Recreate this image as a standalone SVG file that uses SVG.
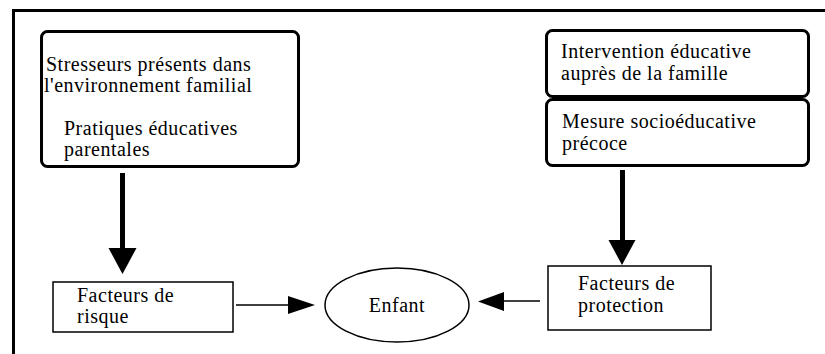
<svg xmlns="http://www.w3.org/2000/svg" width="825" height="354" viewBox="0 0 825 354">
<rect width="825" height="354" fill="#fff"/>
<path d="M13.5 354 V10.5 H825" fill="none" stroke="#000" stroke-width="3"/>
<g id="stresseurs">
<rect x="41.5" y="31.5" width="257" height="135" rx="6" fill="#fff" stroke="#000" stroke-width="3"/>
<text x="46" y="71" font-family="Liberation Serif" font-size="20" letter-spacing="0.5">Stresseurs pr&#233;sents dans</text>
<text x="44" y="92" font-family="Liberation Serif" font-size="20" letter-spacing="0.5">l&#39;environnement familial</text>
<text x="64" y="135" font-family="Liberation Serif" font-size="20" letter-spacing="0.5">Pratiques &#233;ducatives</text>
<text x="64" y="156" font-family="Liberation Serif" font-size="20" letter-spacing="0.5">parentales</text>
</g>
<g id="intervention">
<rect x="546.5" y="30.5" width="262" height="66" rx="6" fill="#fff" stroke="#000" stroke-width="3"/>
<text x="561" y="58" font-family="Liberation Serif" font-size="20" letter-spacing="0.5">Intervention &#233;ducative</text>
<text x="561" y="80" font-family="Liberation Serif" font-size="20" letter-spacing="0.5">aupr&#232;s de la famille</text>
</g>
<g id="mesure">
<rect x="546.5" y="99.5" width="262" height="66" rx="6" fill="#fff" stroke="#000" stroke-width="3"/>
<text x="562" y="128" font-family="Liberation Serif" font-size="20" letter-spacing="0.5">Mesure socio&#233;ducative</text>
<text x="562" y="150" font-family="Liberation Serif" font-size="20" letter-spacing="0.5">pr&#233;coce</text>
</g>
<g id="risque">
<rect x="53" y="282" width="180" height="50" fill="#fff" stroke="#000" stroke-width="1.5"/>
<text x="77" y="302" font-family="Liberation Serif" font-size="20" letter-spacing="0.5">Facteurs de</text>
<text x="77" y="323" font-family="Liberation Serif" font-size="20" letter-spacing="0.5">risque</text>
</g>
<g id="enfant">
<ellipse cx="397" cy="305" rx="72" ry="37" fill="#fff" stroke="#000" stroke-width="1.5"/>
<text x="397" y="312" text-anchor="middle" font-family="Liberation Serif" font-size="20" letter-spacing="0.5">Enfant</text>
</g>
<g id="protection">
<rect x="548" y="266" width="163" height="64" fill="#fff" stroke="#000" stroke-width="1.5"/>
<text x="578" y="290" font-family="Liberation Serif" font-size="20" letter-spacing="0.5">Facteurs de</text>
<text x="578" y="312" font-family="Liberation Serif" font-size="20" letter-spacing="0.5">protection</text>
</g>
<g id="connectors" fill="#000" stroke="#000">
<line x1="122.5" y1="173" x2="122.5" y2="250" stroke-width="5"/>
<polygon points="108.5,248 136.5,248 122.5,274" stroke="none"/>
<line x1="622.5" y1="170" x2="622.5" y2="242" stroke-width="5"/>
<polygon points="608.5,240 635.5,240 622,265" stroke="none"/>
<line x1="236" y1="305" x2="290" y2="305" stroke-width="1.5"/>
<polygon points="288,296 288,314 315,305" stroke="none"/>
<line x1="540" y1="301" x2="502" y2="301" stroke-width="1.5"/>
<polygon points="504,292 504,311 478,301.5" stroke="none"/>
</g>
</svg>
